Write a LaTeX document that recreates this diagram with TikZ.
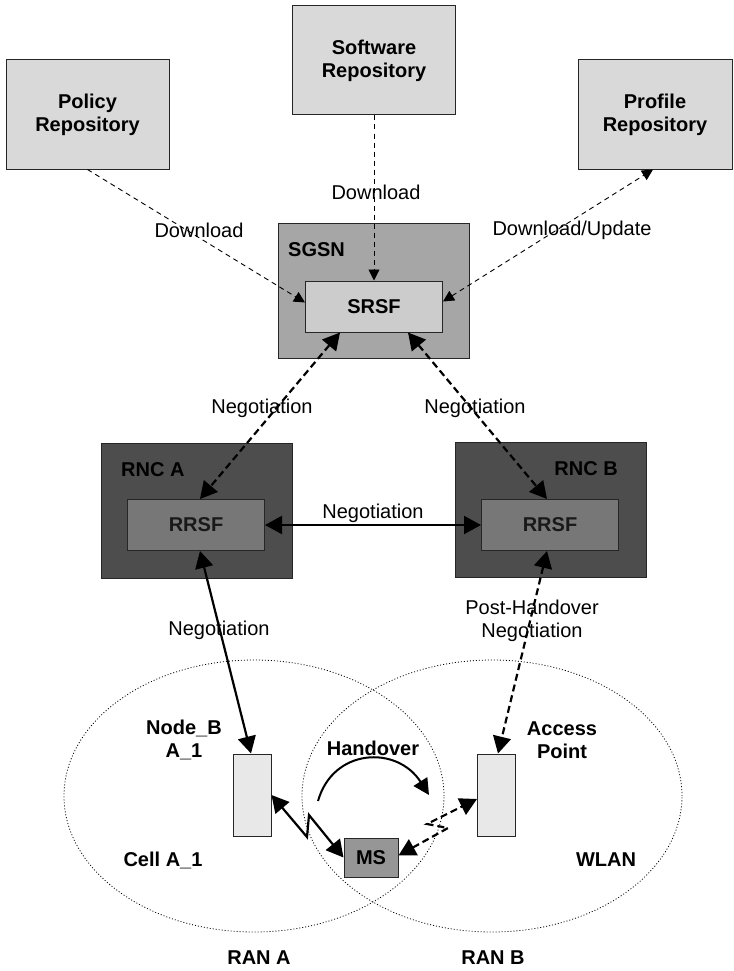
\documentclass[tikz,border=0pt]{standalone}
\usepackage{fontspec}
\setmainfont{Liberation Sans}
\usetikzlibrary{arrows.meta,shapes.geometric}
\definecolor{repofill}{HTML}{D9D9D9}
\definecolor{sgsnfill}{HTML}{A6A6A6}
\definecolor{srsffill}{HTML}{CCCCCC}
\definecolor{rncfill}{HTML}{4D4D4D}
\definecolor{rrsffill}{HTML}{777777}
\definecolor{msfill}{HTML}{969696}
\definecolor{stafill}{HTML}{E8E8E8}
\begin{document}
\begin{tikzpicture}[x=1pt,y=-1pt,
  font=\fontsize{20}{23}\selectfont,
  box/.style={draw=black!85,line width=1pt,inner sep=0pt,align=center,
    font=\fontsize{20}{23}\selectfont\bfseries},
  repo/.style={box,fill=repofill,minimum width=163pt,minimum height=109pt},
  outer/.style={box,minimum width=191pt,minimum height=135pt},
  inner/.style={box,minimum width=137pt,minimum height=51pt},
  station/.style={box,fill=stafill,minimum width=38pt,minimum height=82pt},
  cell/.style={ellipse,draw=black,line width=0.8pt,dash pattern=on 1pt off 2pt,
    inner sep=0pt,minimum width=380pt,minimum height=272pt},
  lbl/.style={inner sep=0pt,align=center},
  blbl/.style={lbl,font=\fontsize{20}{23}\selectfont\bfseries},
  dl/.style={line width=0.9pt,dash pattern=on 5pt off 4pt,
    -{Triangle[length=11pt,width=11pt]}},
  dlboth/.style={dl,{Triangle[length=11pt,width=11pt]}-{Triangle[length=11pt,width=11pt]}},
  neg/.style={line width=2.2pt,
    {Triangle[length=17pt,width=18pt]}-{Triangle[length=17pt,width=18pt]}},
  negd/.style={neg,dash pattern=on 7pt off 4pt}]
\useasboundingbox (0,0) rectangle (733,971);

% radio coverage areas
\node[cell] (cella) at (254,796) {};
\node[cell] (cellb) at (492,796) {};

% repositories
\node[repo] (pol)  at (87.5,114.5) {Policy\\Repository};
\node[repo] (sw)   at (374,60.5)   {Software\\Repository};
\node[repo,minimum width=154pt] (prof) at (655,114.5) {Profile\\Repository};

% core network and radio network controllers
\node[outer,fill=sgsnfill] (sgsn) at (373.5,290.5) {};
\node[blbl,anchor=west] (sgsnl) at (288,250) {SGSN};
\node[inner,fill=srsffill] (srsf) at (374,306.5) {SRSF};

\node[outer,fill=rncfill] (rnca) at (196.5,510.5) {};
\node[blbl,anchor=west] (rncal) at (121,470) {RNC A};
\node[inner,fill=rrsffill,text=black!90] (rrsfa) at (196,525) {RRSF};

\node[outer,fill=rncfill] (rncb) at (550.5,510) {};
\node[blbl,anchor=east] (rncbl) at (618,469) {RNC B};
\node[inner,fill=rrsffill,text=black!90] (rrsfb) at (550,525) {RRSF};

% base stations and mobile
\node[station] (nodeb) at (252,795) {};
\node[station] (ap)    at (496.5,795) {};
\node[box,fill=msfill,minimum width=54pt,minimum height=39pt] (ms) at (371,857.5) {MS};

% downloads
\draw[dl] (pol.south) -- ([yshift=4pt]srsf.west);
\draw[dl] (sw.south) -- (srsf.north);
\draw[dlboth] ([yshift=5pt]srsf.east) -- ([xshift=-2pt]prof.south);
\node[lbl] (dl1) at (199,230) {Download};
\node[lbl] (dl2) at (376,192) {Download};
\node[lbl] (dl3) at (572,230) {Download/Update};

% negotiations
\draw[negd] ([xshift=-34pt]srsf.south) -- ([xshift=4pt]rrsfa.north);
\draw[negd] ([xshift=34pt]srsf.south) -- ([xshift=-3pt]rrsfb.north);
\draw[neg] (rrsfa.east) -- (rrsfb.west);
\draw[neg] ([xshift=4pt]rrsfa.south) -- ([xshift=-1pt]nodeb.north);
\draw[negd] ([xshift=-3pt]rrsfb.south) -- ([xshift=1.5pt]ap.north);
\node[lbl] (n1) at (262,408) {Negotiation};
\node[lbl] (n2) at (475,408) {Negotiation};
\node[lbl] (n3) at (373,513) {Negotiation};
\node[lbl] (n4) at (219,630) {Negotiation};
\node[lbl] (n5) at (532,621) {Post-Handover\\Negotiation};

% radio links
\coordinate (za) at (307,837);
\coordinate (zb) at (309,815);
\draw[neg] (nodeb.east) -- (za) -- (zb) -- (ms.west);
\coordinate (zc) at (448,828);
\coordinate (zd) at (427,824);
\draw[negd] ([yshift=2pt]ms.east) -- (zc) -- (zd) -- ([yshift=-4pt]ap.west);

% handover
\coordinate (hs) at (318,801);
\coordinate (he) at (429,795);
\draw[line width=2pt,-{Triangle[length=16pt,width=16pt]}]
  (hs) .. controls (333,748) and (397,745) .. (he);
\node[blbl] (ho) at (373,748) {Handover};

% area labels
\node[blbl] (nbl) at (184,740) {Node\_B\\A\_1};
\node[blbl] (apl) at (562,740) {Access\\Point};
\node[blbl] (cal) at (163,860) {Cell A\_1};
\node[blbl] (wl)  at (606,860) {WLAN};
\node[blbl] (rana) at (259,958) {RAN A};
\node[blbl] (ranb) at (493,958) {RAN B};
\end{tikzpicture}
\end{document}
